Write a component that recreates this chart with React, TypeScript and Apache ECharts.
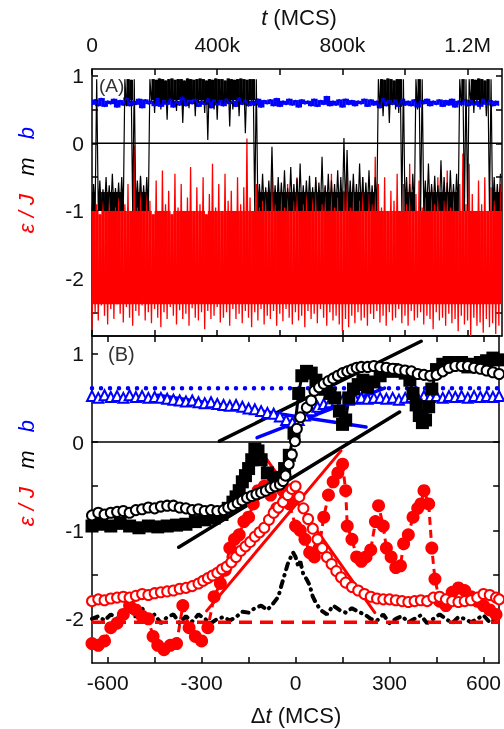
import React, { useEffect, useRef } from "react";
import * as echarts from "echarts";

// ---------- Panel A : time series, sampled every T_STEP MCS ----------
const T_STEP = 10000;
const A_X_LABEL_VALUES = [0, 400000, 800000, 1200000];
const A_X_LABELS = ["0", "400k", "800k", "1.2M"];
const A_X_TICKS = [0, 200000, 400000, 600000, 800000, 1000000, 1200000];
const A_Y_LABELS = [-2, -1, 0, 1];
const A_Y_TICKS = [-2.5, -2, -1.5, -1, -0.5, 0, 0.5, 1];

// energy eps/J : lower and upper envelope per sample
const EPS_LO = [
  -2.75,-2.5,-2.62,-2.4,-2.55,-2.68,-2.45,-2.6,-2.38,-2.52,
  -2.65,-2.42,-2.58,-2.7,-2.48,-2.55,-2.4,-2.62,-2.5,-2.66,
  -2.45,-2.58,-2.72,-2.5,-2.6,-2.42,-2.55,-2.68,-2.47,-2.6,
  -2.52,-2.7,-2.44,-2.58,-2.62,-2.5,-2.75,-2.48,-2.6,-2.55,
  -2.42,-2.65,-2.58,-2.5,-2.7,-2.45,-2.6,-2.52,-2.66,-2.48,
  -2.58,-2.72,-2.5,-2.62,-2.45,-2.68,-2.55,-2.6,-2.48,-2.7,
  -2.52,-2.63,-2.45,-2.58,-2.68,-2.5,-2.62,-2.55,-2.72,-2.48,
  -2.6,-2.52,-2.66,-2.45,-2.58,-2.7,-2.5,-2.62,-2.55,-2.68,
  -2.78,-2.6,-2.72,-2.55,-2.66,-2.5,-2.62,-2.58,-2.7,-2.52,
  -2.6,-2.48,-2.65,-2.55,-2.7,-2.5,-2.62,-2.58,-2.45,-2.66,
  -2.55,-2.7,-2.48,-2.62,-2.58,-2.5,-2.68,-2.55,-2.6,-2.75,
  -2.5,-2.62,-2.58,-2.7,-2.52,-2.66,-2.6,-2.78,-2.55,-2.68,
  -2.62,-2.85,-2.58,-2.7,-2.65,-2.8,-2.6,-2.72,-2.66,-2.82,-2.7,
];
const EPS_HI = [
  -1.0,-0.9,-1.05,-0.85,-1.0,-0.7,-1.0,-0.95,-0.8,-1.0,
  -0.9,-0.6,-1.0,-0.03,-0.95,-0.5,-1.0,-0.75,-0.85,-1.05,
  -0.55,-1.0,-0.4,-0.9,-0.7,-1.05,-0.45,-0.95,-0.6,-1.0,
  -0.8,-0.35,-1.0,-0.65,-0.9,-0.5,-1.05,-0.75,-0.3,-0.95,
  -0.6,-1.0,-0.45,-0.85,-0.7,-1.0,-0.5,-0.9,-0.65,0.07,
  -0.8,-1.0,-0.6,-0.95,-0.85,-0.7,-1.0,-0.4,-0.9,-1.0,
  -0.75,-0.95,-0.6,-1.0,-0.85,-0.5,-1.0,-0.9,-0.7,-1.0,
  -0.8,-0.55,-1.0,-0.9,-0.65,-1.0,-0.45,-0.95,-0.8,-1.0,
  -0.7,-0.3,-0.95,-0.6,-1.0,-0.85,-0.5,-1.0,-0.75,-0.9,
  -0.2,-0.6,-0.95,-0.5,-1.0,-0.7,-0.85,-0.45,-1.0,-0.6,
  -0.9,-0.3,-1.0,-0.75,-0.55,-0.95,-0.8,-1.0,-0.65,-0.9,
  -0.5,-1.0,-0.85,-0.4,-0.95,-0.7,-1.0,-0.6,-0.15,-0.9,
  -0.3,-0.75,-1.0,-0.55,-0.9,-0.5,-1.0,-0.65,-0.85,-1.0,-0.6,
];
// magnetisation m : lower and upper envelope per sample
const M_LO = [
  -1,-1,-1,-1,-1,-1,-1,-1,-1,-1,
  -1,0.55,0.6,-1,-1,-1,-1,-1,-1,0.62,
  0.45,0.66,0.5,0.6,0.35,0.64,0.55,0.48,0.66,0.3,
  0.6,0.52,0.65,0.4,0.6,0.58,0.45,0.05,0.62,0.5,
  0.35,0.64,0.55,0.6,0.25,0.5,0.63,0.4,0.58,0.15,
  0.55,0.6,-1,-1,-1,-1,-1,-1,-1,-1,
  -1,-1,-1,-1,-1,-1,-1,-1,-1,-1,
  -1,-1,-1,-1,-1,-1,-1,-1,-1,-1,
  -1,-1,-1,-1,-1,-1,-1,-1,-1,-1,
  -1,-1,0.55,0.4,0.62,0.3,0.6,0.5,0.45,-1,
  -1,-1,-1,-1,0.5,-1,-1,-1,-1,-1,
  -1,-1,-1,-1,-1,-1,-1,-1,0.55,-1,
  -1,0.6,0.45,0.62,0.5,0.58,0.4,-1,-1,-1,-1,
];
const M_HI = [
  -0.6,0.95,-0.55,-0.68,-0.5,-0.62,-0.45,-0.66,-0.58,-0.5,
  0.95,0.95,0.94,0.95,-0.55,-0.48,-0.62,-0.5,0.95,0.95,
  0.94,0.96,0.95,0.93,0.95,0.96,0.94,0.95,0.95,0.93,
  0.96,0.95,0.94,0.95,0.96,0.95,0.93,0.95,0.94,0.96,
  0.95,0.95,0.93,0.96,0.95,0.94,0.95,0.96,0.95,0.94,
  0.95,0.95,0.95,-0.6,-0.45,-0.65,-0.55,-0.05,-0.62,-0.5,
  -0.58,-0.4,-0.66,-0.35,-0.6,-0.52,-0.3,-0.62,-0.55,-0.48,
  -0.65,-0.5,-0.58,-0.2,-0.62,-0.45,-0.55,-0.6,-0.4,-0.5,
  0.08,-0.1,-0.55,-0.45,-0.6,-0.3,-0.5,-0.58,-0.4,-0.62,
  -0.5,0.95,0.95,0.94,0.96,0.95,0.93,0.95,0.95,0.95,
  -0.5,-0.6,-0.45,0.95,0.95,0.95,-0.55,-0.3,-0.6,-0.48,
  -0.62,-0.25,-0.5,-0.58,-0.4,-0.6,-0.45,0.95,0.95,0.95,
  0.95,0.95,0.94,0.96,0.95,0.93,0.95,0.95,-0.5,-0.6,-0.45,
];
// parameter b per sample
const B_VAL = [
  0.57,0.65,0.55,0.67,0.54,0.63,0.58,0.66,0.53,0.64,
  0.56,0.68,0.55,0.63,0.57,0.66,0.52,0.65,0.58,0.63,
  0.55,0.67,0.54,0.64,0.57,0.66,0.53,0.63,0.56,0.69,
  0.55,0.64,0.58,0.66,0.54,0.63,0.57,0.67,0.52,0.65,
  0.56,0.64,0.55,0.66,0.58,0.63,0.54,0.68,0.57,0.65,
  0.55,0.63,0.56,0.66,0.53,0.64,0.58,0.65,0.55,0.67,
  0.54,0.63,0.57,0.66,0.56,0.64,0.53,0.65,0.58,0.63,
  0.55,0.66,0.54,0.64,0.57,0.7,0.55,0.63,0.56,0.65,
  0.53,0.66,0.57,0.64,0.55,0.63,0.58,0.66,0.54,0.65,
  0.56,0.63,0.52,0.67,0.55,0.64,0.57,0.65,0.54,0.66,
  0.56,0.63,0.55,0.65,0.53,0.64,0.58,0.66,0.55,0.63,
  0.57,0.65,0.54,0.64,0.56,0.66,0.53,0.63,0.57,0.65,
  0.55,0.64,0.56,0.63,0.54,0.66,0.57,0.64,0.55,0.63,0.56,
];

// ---------- Panel B : averages around the transition ----------
const B_X_LABELS = [-600, -300, 0, 300, 600];
const B_X_TICKS = [-600, -450, -300, -150, 0, 150, 300, 450, 600];
const B_Y_LABELS = [-2, -1, 0, 1];
const B_Y_TICKS = [-2, -1.5, -1, -0.5, 0, 0.5, 1];

const B_DOT_LEVEL = 0.61;
const TRI_X = [
  -650,-630,-610,-590,-570,-550,-530,-510,-490,-470,-450,-430,-410,-390,-370,-350,-330,-310,-290,-270,-250,-230,
  -210,-190,-170,-150,-130,-110,-90,-70,-50,-30,-10,10,30,50,70,90,110,130,150,170,190,210,230,250,270,290,310,
  330,350,370,390,410,430,450,470,490,510,530,550,570,590,610,630,650,
];
const TRI_B = [
  0.52,0.5,0.53,0.51,0.52,0.5,0.53,0.51,0.52,0.5,0.51,0.5,0.49,0.48,0.47,0.46,0.47,0.45,0.44,0.45,0.43,0.42,
  0.41,0.42,0.4,0.38,0.37,0.35,0.33,0.32,0.29,0.25,0.22,0.25,0.3,0.36,0.4,0.43,0.45,0.46,0.47,0.48,0.49,
  0.5,0.49,0.5,0.5,0.49,0.5,0.48,0.5,0.51,0.5,0.52,0.51,0.52,0.5,0.52,0.51,0.52,0.5,0.52,0.51,0.52,0.51,0.52,
];
const M_CIRCLES = [
  [-650,-0.83],[-630,-0.8],[-610,-0.82],[-590,-0.8],[-570,-0.79],[-550,-0.78],[-530,-0.8],[-510,-0.77],
  [-490,-0.76],[-470,-0.74],[-450,-0.75],[-430,-0.73],[-410,-0.72],[-390,-0.72],[-370,-0.74],[-350,-0.75],
  [-330,-0.77],[-310,-0.76],[-290,-0.78],[-270,-0.77],[-250,-0.78],[-230,-0.77],[-215,-0.74],[-200,-0.72],
  [-185,-0.69],[-170,-0.66],[-155,-0.63],[-140,-0.61],[-125,-0.59],[-110,-0.57],[-95,-0.55],[-80,-0.52],
  [-65,-0.5],[-50,-0.48],[-40,-0.44],[-32,-0.38],[-22,-0.25],[-12,-0.14],[-2,0.01],[4,0.15],[15,0.28],
  [36,0.39],[50,0.47],[60,0.58],[75,0.62],[90,0.66],[105,0.69],[120,0.72],[135,0.75],[150,0.78],[165,0.8],
  [180,0.82],[195,0.84],[210,0.85],[230,0.85],[250,0.86],[270,0.85],[290,0.84],[310,0.83],[330,0.82],
  [350,0.81],[370,0.8],[390,0.77],[410,0.76],[430,0.75],[450,0.76],[470,0.8],[490,0.84],[510,0.86],
  [530,0.86],[550,0.86],[570,0.84],[590,0.83],[610,0.81],[630,0.79],[650,0.77],
];
const M_SQUARES = [
  [-650,-0.95],[-620,-0.93],[-590,-0.95],[-560,-0.92],[-530,-0.95],[-500,-0.97],[-470,-0.95],[-440,-0.96],
  [-410,-0.95],[-380,-0.94],[-350,-0.93],[-320,-0.9],[-290,-0.88],[-260,-0.86],[-235,-0.82],[-215,-0.75],
  [-200,-0.68],[-190,-0.62],[-180,-0.55],[-170,-0.45],[-160,-0.38],[-150,-0.3],[-140,-0.2],[-130,-0.08],
  [-120,-0.1],[-110,-0.2],[-90,-0.35],[-70,-0.4],[-50,-0.42],[-35,-0.3],[-20,-0.15],[-5,0.1],[10,0.55],
  [20,0.75],[35,0.8],[50,0.78],[65,0.7],[80,0.6],[95,0.6],[110,0.55],[125,0.5],[140,0.35],[150,0.2],
  [160,0.25],[170,0.5],[185,0.6],[200,0.65],[215,0.7],[230,0.62],[250,0.68],[270,0.75],[290,0.8],
  [310,0.82],[330,0.8],[350,0.78],[365,0.7],[375,0.55],[385,0.42],[395,0.3],[405,0.22],[415,0.25],
  [425,0.4],[435,0.6],[450,0.82],[470,0.88],[490,0.9],[510,0.88],[530,0.9],[550,0.85],[570,0.88],
  [590,0.9],[610,0.92],[630,0.95],[650,0.93],
];
const EPS_FILLED = [
  [-650,-2.28],[-630,-2.3],[-610,-2.25],[-590,-2.1],[-570,-2.05],[-550,-1.95],[-530,-1.85],[-510,-1.9],
  [-490,-1.97],[-470,-2.0],[-455,-2.2],[-440,-2.3],[-420,-2.35],[-400,-2.3],[-380,-2.28],[-360,-1.85],
  [-340,-2.1],[-320,-2.2],[-300,-2.25],[-280,-2.1],[-260,-1.75],[-240,-1.6],[-225,-1.45],[-210,-1.2],
  [-195,-1.1],[-180,-1.05],[-165,-0.9],[-150,-0.85],[-135,-0.7],[-120,-0.55],[-100,-0.5],[-80,-0.6],
  [-60,-0.75],[-40,-0.55],[-20,-0.7],[0,-0.95],[15,-1.0],[30,-1.1],[45,-1.25],[60,-1.3],[75,-1.2],
  [90,-0.85],[105,-0.6],[120,-0.45],[135,-0.35],[150,-0.25],[160,-0.55],[165,-0.95],[180,-1.1],
  [195,-1.3],[210,-1.35],[225,-1.3],[240,-1.22],[255,-0.9],[265,-0.72],[280,-0.95],[290,-1.2],
  [305,-1.3],[320,-1.42],[335,-1.4],[345,-1.15],[360,-1.05],[375,-0.85],[390,-0.75],[400,-0.7],
  [410,-0.55],[425,-0.7],[435,-1.2],[445,-1.55],[460,-1.8],[480,-1.85],[500,-1.7],[520,-1.65],
  [540,-1.68],[560,-1.75],[580,-1.8],[600,-1.85],[620,-1.9],[640,-1.95],
];
const EPS_OPEN = [
  [-650,-1.8],[-630,-1.78],[-610,-1.79],[-590,-1.77],[-570,-1.76],[-550,-1.75],[-530,-1.76],[-510,-1.74],
  [-490,-1.72],[-470,-1.73],[-450,-1.71],[-430,-1.7],[-410,-1.69],[-390,-1.68],[-370,-1.66],[-350,-1.65],
  [-330,-1.63],[-310,-1.6],[-295,-1.57],[-280,-1.54],[-265,-1.51],[-250,-1.48],[-235,-1.44],[-220,-1.41],
  [-205,-1.36],[-190,-1.3],[-175,-1.23],[-160,-1.18],[-145,-1.13],[-130,-1.07],[-115,-1.02],[-100,-0.97],
  [-85,-0.88],[-70,-0.8],[-55,-0.74],[-40,-0.68],[-25,-0.6],[-12,-0.53],[0,-0.5],[12,-0.62],[25,-0.75],
  [40,-0.87],[55,-0.98],[70,-1.1],[85,-1.2],[100,-1.3],[115,-1.38],[130,-1.46],[145,-1.53],[160,-1.59],
  [180,-1.64],[200,-1.68],[220,-1.72],[240,-1.75],[260,-1.77],[280,-1.78],[300,-1.78],[320,-1.79],
  [340,-1.8],[360,-1.81],[380,-1.8],[400,-1.79],[420,-1.8],[440,-1.76],[460,-1.75],[480,-1.78],
  [500,-1.8],[520,-1.81],[540,-1.8],[560,-1.79],[580,-1.76],[600,-1.72],[620,-1.73],[640,-1.76],[650,-1.78],
];
const EPS_MIN = [
  [-650,-2.0],[-630,-1.97],[-610,-2.02],[-590,-1.95],[-570,-2.0],[-550,-1.97],[-530,-1.9],[-510,-1.98],
  [-490,-1.88],[-470,-2.0],[-450,-1.95],[-430,-2.05],[-410,-1.98],[-390,-1.95],[-370,-2.05],[-350,-1.97],
  [-330,-2.03],[-310,-1.95],[-290,-2.0],[-270,-2.05],[-250,-2.0],[-230,-1.98],[-210,-2.02],[-190,-1.98],
  [-170,-1.92],[-150,-1.93],[-130,-1.88],[-110,-1.85],[-90,-1.9],[-70,-1.82],[-55,-1.75],[-45,-1.62],
  [-35,-1.5],[-25,-1.38],[-15,-1.3],[-8,-1.25],[0,-1.3],[8,-1.4],[15,-1.35],[25,-1.5],[35,-1.55],
  [45,-1.62],[55,-1.75],[65,-1.82],[80,-1.9],[100,-1.95],[120,-1.85],[140,-1.9],[160,-1.93],[180,-1.88],
  [200,-1.92],[220,-1.95],[240,-2.0],[260,-2.02],[280,-1.95],[300,-2.05],[320,-2.0],[340,-1.97],
  [360,-2.04],[380,-2.0],[400,-1.96],[420,-2.05],[440,-2.0],[460,-1.95],[480,-2.0],[500,-2.05],
  [520,-1.98],[540,-2.0],[560,-2.04],[580,-2.0],[600,-1.96],[620,-2.04],[640,-2.0],
];
const EPS_FLOOR = -2.04;
const FIT_M_UPPER = [[-243, 0.01], [401, 1.14]];
const FIT_M_LOWER = [[-373, -1.19], [332, 0.34]];
const FIT_B_DOWN = [[-440, 0.53], [225, 0.17]];
const FIT_B_UP = [[-123, 0.05], [284, 0.61]];
const FIT_E_UP = [[-284, -1.91], [145, -0.1]];
const FIT_E_DOWN = [[-123, -0.04], [253, -1.93]];

const FONT = "'Liberation Sans', Arial, sans-serif";
const RED = "#ff0000";
const BLUE = "#0000ff";

function zigzag(lo: number[], hi: number[]) {
  const out: number[][] = [];
  for (let i = 0; i < lo.length; i++) {
    out.push([i * T_STEP, lo[i]]);
    out.push([i * T_STEP + T_STEP / 2, hi[i]]);
  }
  return out;
}

// solid core of each sample (clipped envelope) drawn as a step band
function redCore() {
  return EPS_LO.map((lo, i) => [i * T_STEP, Math.max(lo, -2.38), Math.min(EPS_HI[i], -1.0)]);
}
function blackCore() {
  const out: number[][] = [];
  M_LO.forEach((lo, i) => {
    const hi = M_HI[i];
    if (lo > 0) out.push([i * T_STEP, Math.max(lo, 0.64), hi]);
    else if (hi < 0.5) out.push([i * T_STEP, lo, Math.min(hi, -0.72)]);
  });
  return out;
}
function blueCore() {
  return B_VAL.slice(0, -1).map((v, i) => [i * T_STEP, Math.min(v, B_VAL[i + 1]), Math.max(v, B_VAL[i + 1])]);
}
function bandSeries(data: number[][], color: string) {
  return {
    type: "custom", xAxisIndex: 0, yAxisIndex: 0, data, silent: true, clip: true,
    encode: { x: 0, y: [1, 2] },
    renderItem: (params: any, api: any) => {
      const t = api.value(0);
      const p0 = api.coord([t, api.value(2)]);
      const p1 = api.coord([t + T_STEP, api.value(1)]);
      return { type: "rect", shape: { x: p0[0], y: p0[1], width: p1[0] - p0[0] + 0.3, height: p1[1] - p0[1] },
        style: { fill: color } };
    },
  };
}

export default function App() {
  const ref = useRef<HTMLDivElement>(null);
  useEffect(() => {
    if (!ref.current) return;
    const chart = echarts.init(ref.current, null, { renderer: "svg" });
    const axisLine = { show: true, onZero: false, lineStyle: { color: "#000", width: 1.5 } };
    const label = { fontFamily: FONT, fontSize: 21, color: "#111" };
    const tick = (vals: number[]) => ({ show: true, inside: true, length: 6, customValues: vals, lineStyle: { color: "#000", width: 1.5 } });
    const line = (data: any, color: string, width: number, type: any = "solid", cap: string = "round") => ({
      type: "line", xAxisIndex: 2, yAxisIndex: 2, data, showSymbol: false, symbol: "none",
      lineStyle: { color, width, type, cap }, silent: true,
    });
    const option: any = {
      animation: false,
      grid: [
        { left: 92, right: 2, top: 69, height: 267 },
        { left: 92, right: 2, top: 336, height: 327 },
      ],
      xAxis: [
        { gridIndex: 0, type: "value", position: "top", min: 0, max: 1310000, axisLine, splitLine: { show: false },
          axisTick: tick(A_X_TICKS),
          axisLabel: { ...label, margin: 14, customValues: A_X_LABEL_VALUES,
            formatter: (v: number) => A_X_LABELS[A_X_LABEL_VALUES.indexOf(v)] ?? "" } },
        { gridIndex: 0, type: "value", position: "bottom", min: 0, max: 1310000, axisLine, splitLine: { show: false },
          axisTick: tick(A_X_TICKS), axisLabel: { show: false } },
        { gridIndex: 1, type: "value", position: "bottom", min: -650, max: 650, axisLine, splitLine: { show: false },
          axisTick: tick(B_X_TICKS),
          axisLabel: { ...label, margin: 9, customValues: B_X_LABELS } },
        { gridIndex: 1, type: "value", position: "top", min: -650, max: 650, axisLine, splitLine: { show: false },
          axisTick: tick(B_X_TICKS), axisLabel: { show: false } },
      ],
      yAxis: [
        { gridIndex: 0, type: "value", position: "left", min: -2.85, max: 1.1, axisLine, splitLine: { show: false },
          axisTick: tick(A_Y_TICKS), axisLabel: { ...label, margin: 8, customValues: A_Y_LABELS } },
        { gridIndex: 0, type: "value", position: "right", min: -2.85, max: 1.1, axisLine, splitLine: { show: false },
          axisTick: tick(A_Y_TICKS), axisLabel: { show: false } },
        { gridIndex: 1, type: "value", position: "left", min: -2.5, max: 1.2, axisLine, splitLine: { show: false },
          axisTick: tick(B_Y_TICKS), axisLabel: { ...label, margin: 8, customValues: B_Y_LABELS } },
        { gridIndex: 1, type: "value", position: "right", min: -2.5, max: 1.2, axisLine, splitLine: { show: false },
          axisTick: tick(B_Y_TICKS), axisLabel: { show: false } },
      ],
      series: [
        // Panel A
        bandSeries(redCore(), RED),
        { type: "line", xAxisIndex: 0, yAxisIndex: 0, data: zigzag(EPS_LO, EPS_HI), showSymbol: false, symbol: "none",
          lineStyle: { color: RED, width: 1.3 }, silent: true },
        bandSeries(blackCore(), "#000"),
        { type: "line", xAxisIndex: 0, yAxisIndex: 0, data: zigzag(M_LO, M_HI), showSymbol: false, symbol: "none",
          lineStyle: { color: "#000", width: 1.2 }, silent: true },
        bandSeries(blueCore(), BLUE),
        { type: "line", xAxisIndex: 0, yAxisIndex: 0, data: B_VAL.map((v, i) => [i * T_STEP, v]), showSymbol: false,
          symbol: "none", lineStyle: { color: BLUE, width: 1.4 }, silent: true },
        { type: "line", xAxisIndex: 0, yAxisIndex: 0, data: [[0, 0], [1310000, 0]], showSymbol: false, symbol: "none",
          lineStyle: { color: "#000", width: 1.5 }, silent: true },
        // Panel B
        line([[-650, B_DOT_LEVEL], [650, B_DOT_LEVEL]], BLUE, 4.5, [0, 9]),
        { type: "line", xAxisIndex: 2, yAxisIndex: 2, data: TRI_X.map((x, i) => [x, TRI_B[i]]), symbol: "emptyTriangle",
          symbolSize: 10, lineStyle: { width: 0 }, itemStyle: { color: BLUE, borderWidth: 1 }, silent: true },
        { type: "line", xAxisIndex: 2, yAxisIndex: 2, data: M_SQUARES, symbol: "rect", symbolSize: 13,
          lineStyle: { color: "#000", width: 3 }, itemStyle: { color: "#000" }, silent: true },
        { type: "line", xAxisIndex: 2, yAxisIndex: 2, data: EPS_FILLED, symbol: "circle", symbolSize: 13,
          lineStyle: { color: RED, width: 3, type: [8, 5] }, itemStyle: { color: RED }, silent: true },
        { type: "line", xAxisIndex: 2, yAxisIndex: 2, data: EPS_OPEN, symbol: "emptyCircle", symbolSize: 10,
          lineStyle: { width: 0 }, itemStyle: { color: RED, borderWidth: 0.8 }, silent: true },
        { type: "line", xAxisIndex: 2, yAxisIndex: 2, data: M_CIRCLES, symbol: "emptyCircle", symbolSize: 10,
          lineStyle: { width: 0 }, itemStyle: { color: "#000", borderWidth: 0.9 }, silent: true },
        line(EPS_MIN, "#000", 4, [6, 6, 0.5, 6]),
        line([[-650, EPS_FLOOR], [650, EPS_FLOOR]], RED, 3.5, [13, 8], "butt"),
        line([[-650, 0], [650, 0]], "#000", 1.5),
        line(FIT_M_UPPER, "#000", 3.5),
        line(FIT_M_LOWER, "#000", 3.5),
        line(FIT_B_DOWN, BLUE, 3.5),
        line(FIT_B_UP, BLUE, 3.5),
        line(FIT_E_UP, RED, 3),
        line(FIT_E_DOWN, RED, 3),
      ],
      graphic: [
        { type: "text", x: 299, y: 17, style: { text: "{i|t} (MCS)", align: "center", verticalAlign: "middle",
            font: `22px ${FONT}`, fill: "#111", rich: { i: { fontStyle: "italic", fontSize: 22, fontFamily: FONT } } } },
        { type: "text", x: 296, y: 715, style: { text: "Δ{i|t} (MCS)", align: "center", verticalAlign: "middle",
            font: `22px ${FONT}`, fill: "#111", rich: { i: { fontStyle: "italic", fontSize: 22, fontFamily: FONT } } } },
        { type: "text", x: 99, y: 85, style: { text: "(A)", align: "left", verticalAlign: "middle", font: `19px ${FONT}`, fill: "#333" } },
        { type: "text", x: 108, y: 354, style: { text: "(B)", align: "left", verticalAlign: "middle", font: `20px ${FONT}`, fill: "#333" } },
        ...[180, 473].map((cy) => ({
          type: "text", x: 26, y: cy, rotation: Math.PI / 2,
          style: { text: "{r|ε / J}   {k|m}   {b|b}", align: "center", verticalAlign: "middle", font: `italic 22px ${FONT}`,
            rich: {
              r: { fill: RED, fontStyle: "italic", fontSize: 22, fontFamily: FONT },
              k: { fill: "#000", fontStyle: "italic", fontSize: 22, fontFamily: FONT },
              b: { fill: BLUE, fontStyle: "italic", fontSize: 22, fontFamily: FONT },
            } },
        })),
      ],
    };
    chart.setOption(option);
    return () => chart.dispose();
  }, []);
  return <div ref={ref} style={{ position: "fixed", left: 0, top: 0, width: 504, height: 729 }} />;
}
